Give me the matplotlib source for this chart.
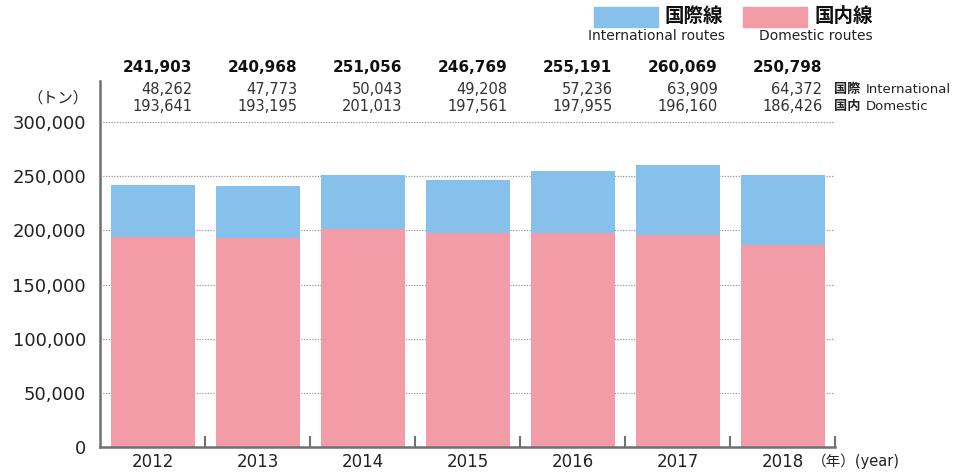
import matplotlib
matplotlib.use("Agg")
import matplotlib.pyplot as plt
import numpy as np

plt.rcParams['font.family'] = ['DejaVu Sans', 'Noto Sans CJK JP']

years = ['2012', '2013', '2014', '2015', '2016', '2017', '2018']
international = [48262, 47773, 50043, 49208, 57236, 63909, 64372]
domestic = [193641, 193195, 201013, 197561, 197955, 196160, 186426]
totals = [241903, 240968, 251056, 246769, 255191, 260069, 250798]
yticks = [0, 50000, 100000, 150000, 200000, 250000, 300000]

c_int = '#85C1EA'
c_dom = '#F29CA8'
axis_c = '#707070'
txt = '#222222'
txt2 = '#333333'

W, H = 961, 472
fig = plt.figure(figsize=(W / 100, H / 100), dpi=100)
ax = fig.add_axes([100 / W, 25 / H, 735 / W, 366 / H])

x = np.arange(len(years))
ax.bar(x, domestic, width=0.8, color=c_dom, zorder=2)
ax.bar(x, international, bottom=domestic, width=0.8, color=c_int, zorder=2)

ax.set_xlim(-0.5, len(years) - 0.5)
ax.set_ylim(0, 338000)

for v in yticks[1:]:
    ax.axhline(v, color='#999999', lw=0.9, ls=(0, (1, 1.2)), zorder=1)

ax.set_yticks(yticks)
ax.set_yticklabels([f'{v:,}' for v in yticks], fontsize=13, color=txt)
ax.tick_params(axis='y', length=0, pad=10)

ax.set_xticks(x)
ax.set_xticklabels(years, fontsize=12, color=txt)
ax.tick_params(axis='x', which='major', length=0, pad=4)
ax.set_xticks(np.arange(len(years)) + 0.5, minor=True)
ax.tick_params(axis='x', which='minor', direction='in', length=8, width=1.5, color=axis_c)

for s in ['top', 'right']:
    ax.spines[s].set_visible(False)
for s in ['left', 'bottom']:
    ax.spines[s].set_color(axis_c)
    ax.spines[s].set_linewidth(1.8)

for i in range(len(years)):
    xr = (100 + (x[i] + 0.88) * 105) / W
    fig.text(xr, 1 - 68 / H, f'{totals[i]:,}', ha='right', va='center',
             fontsize=11, fontweight='bold', color='#111111')
    fig.text(xr, 1 - 90 / H, f'{international[i]:,}', ha='right', va='center',
             fontsize=10.5, color=txt2)
    fig.text(xr, 1 - 106 / H, f'{domestic[i]:,}', ha='right', va='center',
             fontsize=10.5, color=txt2)

fig.text(834 / W, 1 - 90 / H, '国際', ha='left', va='center', fontsize=9.5, fontweight='bold', color=txt)
fig.text(866 / W, 1 - 90 / H, 'International', ha='left', va='center', fontsize=9.5, color=txt)
fig.text(834 / W, 1 - 106 / H, '国内', ha='left', va='center', fontsize=9.5, fontweight='bold', color=txt)
fig.text(866 / W, 1 - 106 / H, 'Domestic', ha='left', va='center', fontsize=9.5, color=txt)

fig.text(88 / W, 1 - 98 / H, '（トン）', ha='right', va='center', fontsize=11, color=txt)
fig.text(812 / W, 1 - 461 / H, '（年）(year)', ha='left', va='center', fontsize=10.5, color=txt)

# legend
fig.patches.append(plt.Rectangle((594 / W, 1 - 27 / H), 64 / W, 20 / H, transform=fig.transFigure,
                                 color=c_int))
fig.text(665 / W, 1 - 17 / H, '国際線', ha='left', va='center', fontsize=14, fontweight='bold', color='#111111')
fig.text(657 / W, 1 - 36 / H, 'International routes', ha='center', va='center', fontsize=10, color=txt)
fig.patches.append(plt.Rectangle((743 / W, 1 - 27 / H), 64 / W, 20 / H, transform=fig.transFigure,
                                 color=c_dom))
fig.text(814 / W, 1 - 17 / H, '国内線', ha='left', va='center', fontsize=14, fontweight='bold', color='#111111')
fig.text(816 / W, 1 - 36 / H, 'Domestic routes', ha='center', va='center', fontsize=10, color=txt)

fig.savefig('out.png', dpi=100)
